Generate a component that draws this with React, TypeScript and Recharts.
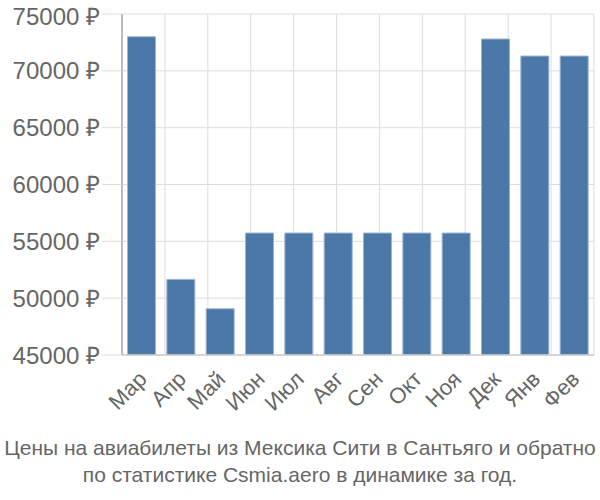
import { BarChart, Bar, XAxis, YAxis, CartesianGrid } from "recharts"

// Months of the year (starting from March)
const MONTHS = ["Мар", "Апр", "Май", "Июн", "Июл", "Авг", "Сен", "Окт", "Ноя", "Дек", "Янв", "Фев"]
// Ticket prices in rubles
const PRICES = [73000, 51650, 49070, 55730, 55730, 55730, 55730, 55730, 55730, 72800, 71300, 71300]
const Y_TICKS = [45000, 50000, 55000, 60000, 65000, 70000, 75000]
const GRID_TICKS = [0, 1, 2, 3, 4, 5, 6, 7, 8, 9, 10, 11, 12]

const TITLE_1 = "Цены на авиабилеты из Мексика Сити в Сантьяго и обратно"
const TITLE_2 = "по статистике Csmia.aero в динамике за год."

const FONT = "'Liberation Sans', Arial, sans-serif"

const data = MONTHS.map((m, i) => ({ month: m, price: PRICES[i] }))

function MonthTick(props: any) {
  const { x, y, payload } = props
  return (
    <g transform={`translate(${x + 1},${y + 20})`}>
      <text
        transform="rotate(-45)"
        textAnchor="end"
        fill="#666"
        fontSize={22}
        fontFamily={FONT}
        dy="0.35em"
      >
        {payload.value}
      </text>
    </g>
  )
}

export default function App() {
  return (
    <div style={{ position: "absolute", left: 0, top: 0, width: 600, height: 500, background: "#fff", fontFamily: FONT }}>
      <BarChart
        width={600}
        height={430}
        data={data}
        margin={{ top: 14, right: 6, left: 0, bottom: 0 }}
        barCategoryGap="14%"
      >
        <CartesianGrid xAxisId="grid" stroke="#ddd" />
        <XAxis
          xAxisId="grid"
          type="number"
          domain={[0, 12]}
          ticks={GRID_TICKS}
          height={0}
          tickSize={18}
          tickLine={{ stroke: "#ddd" }}
          axisLine={false}
          tickFormatter={() => ""}
        />
        <XAxis
          xAxisId="cat"
          dataKey="month"
          height={75}
          tickSize={0}
          tickMargin={0}
          tickLine={false}
          axisLine={{ stroke: "#ccc", strokeWidth: 1.5 }}
          tick={<MonthTick />}
          interval={0}
        />
        <YAxis
          width={122}
          domain={[45000, 75000]}
          ticks={Y_TICKS}
          allowDataOverflow
          tickSize={20}
          tickMargin={2}
          tickLine={{ stroke: "#ddd" }}
          axisLine={{ stroke: "#aaa", strokeWidth: 1.5 }}
          tick={{ fill: "#666", fontSize: 24, fontFamily: FONT }}
          tickFormatter={(v) => `${v} ₽`}
        />
        <Bar
          xAxisId="cat"
          dataKey="price"
          fill="#4c78a8"
          stroke="#9db5d2"
          strokeWidth={1}
          isAnimationActive={false}
        />
      </BarChart>
      <div
        style={{
          position: "absolute",
          top: 434,
          left: 0,
          width: 600,
          textAlign: "center",
          color: "#666",
          fontSize: 21,
          lineHeight: "27px",
          whiteSpace: "nowrap",
        }}
      >
        <div>{TITLE_1}</div>
        <div>{TITLE_2}</div>
      </div>
    </div>
  )
}
